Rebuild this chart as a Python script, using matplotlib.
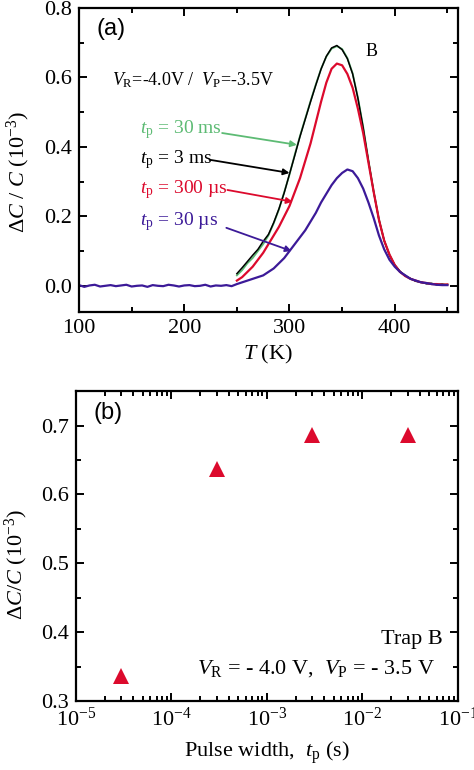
import numpy as np
import matplotlib
matplotlib.use('Agg')
import matplotlib.pyplot as plt
from matplotlib.ticker import MultipleLocator, LogLocator, NullFormatter

# 字体设置
plt.rcParams['font.family'] = ['Liberation Serif', 'DejaVu Serif']
plt.rcParams['mathtext.fontset'] = 'custom'
plt.rcParams['mathtext.rm'] = 'Liberation Serif'
plt.rcParams['mathtext.it'] = 'Liberation Serif:italic'
plt.rcParams['mathtext.bf'] = 'Liberation Serif:bold'

# (a) DLTS spectra
T_hi = list(range(250, 455, 5))
dc_30ms = [0.030, 0.045, 0.065, 0.080, 0.100, 0.120, 0.145, 0.180, 0.220, 0.270,
           0.320, 0.378, 0.432, 0.482, 0.532, 0.580, 0.625, 0.660, 0.683, 0.690,
           0.682, 0.656, 0.612, 0.542, 0.458, 0.362, 0.272, 0.192, 0.130, 0.090,
           0.060, 0.040, 0.030, 0.020, 0.014, 0.010, 0.007, 0.006, 0.004, 0.003,
           0.004]
dc_3ms = [0.035, 0.052, 0.070, 0.088, 0.105, 0.128, 0.148, 0.182, 0.222, 0.268,
          0.322, 0.375, 0.430, 0.480, 0.530, 0.578, 0.624, 0.661, 0.685, 0.692,
          0.680, 0.654, 0.610, 0.540, 0.455, 0.360, 0.270, 0.190, 0.130, 0.088,
          0.060, 0.042, 0.028, 0.021, 0.013, 0.011, 0.006, 0.007, 0.003, 0.005,
          0.002]
dc_300us = [0.015, 0.025, 0.040, 0.055, 0.075, 0.095, 0.120, 0.145, 0.170, 0.200,
            0.230, 0.270, 0.310, 0.360, 0.410, 0.470, 0.530, 0.585, 0.625, 0.640,
            0.635, 0.610, 0.570, 0.510, 0.440, 0.355, 0.270, 0.190, 0.130, 0.090,
            0.060, 0.040, 0.028, 0.020, 0.015, 0.010, 0.008, 0.005, 0.005, 0.003,
            0.004]
T_lo = list(range(100, 455, 5))
dc_30us = [0.002, -0.003, 0.001, 0.003, -0.002, 0.000, 0.002, -0.001, 0.001, 0.003,
           -0.002, 0.000, 0.001, -0.003, 0.002, 0.000, -0.001, 0.003, 0.001, -0.002,
           0.001, 0.002, -0.001, 0.000, 0.003, -0.002, 0.001, 0.000, 0.002, -0.001,
           0.005, 0.010, 0.015, 0.020, 0.025, 0.030, 0.040, 0.050, 0.065, 0.080,
           0.100, 0.120, 0.140, 0.160, 0.185, 0.210, 0.240, 0.265, 0.290, 0.310,
           0.325, 0.335, 0.330, 0.310, 0.280, 0.240, 0.195, 0.145, 0.105, 0.075,
           0.055, 0.040, 0.030, 0.020, 0.015, 0.010, 0.008, 0.005, 0.003, 0.002,
           0.002]

# (b) 峰值 vs 脉冲宽度
tp = [3e-5, 3e-4, 3e-3, 3e-2]
peak = [0.336, 0.637, 0.686, 0.686]

c_green = '#5dbb74'
c_red = '#dc0a2d'
c_purple = '#3c1a98'

fig = plt.figure(figsize=(4.74, 7.7), dpi=100)
ax1 = fig.add_axes([0.1667, 0.595, 0.7993, 0.3946])
ax2 = fig.add_axes([0.160, 0.0896, 0.806, 0.4024])

ax1.plot(T_hi, dc_30ms, color=c_green, lw=1.3)
ax1.plot(T_hi, dc_3ms, color='black', lw=1.1)
ax1.plot(T_hi, dc_300us, color=c_red, lw=1.6)
ax1.plot(T_lo, dc_30us, color=c_purple, lw=1.6)

ax1.set_xlim(100, 460)
ax1.set_ylim(-0.075, 0.8)
ax1.xaxis.set_major_locator(MultipleLocator(100))
ax1.xaxis.set_minor_locator(MultipleLocator(50))
ax1.yaxis.set_major_locator(MultipleLocator(0.2))
ax1.yaxis.set_minor_locator(MultipleLocator(0.1))
ax1.yaxis.set_major_formatter(plt.FormatStrFormatter('%.1f'))
ax1.set_xlabel(r'$T$ (K)', fontsize=16, labelpad=4)
ax1.set_ylabel(r'$\Delta C$ / $C$ (10$^{-3}$)', fontsize=16)
ax1.yaxis.set_label_coords(-0.125, 0.46)

ax1.text(0.045, 0.93, '(a)', transform=ax1.transAxes, fontsize=17,
         family='Liberation Sans', va='center')
ax1.text(131, 0.593, r'$V_\mathrm{R}$=-4.0V /  $V_\mathrm{P}$=-3.5V', fontsize=13, va='center')
ax1.text(372, 0.676, 'B', fontsize=13, va='center')

labels = [(r'$t_\mathrm{p}$ = 30 ms', c_green, 0.449, (236, 0.44), (307, 0.406)),
          (r'$t_\mathrm{p}$ = 3 ms', 'black', 0.363, (224, 0.363), (300, 0.325)),
          (r'$t_\mathrm{p}$ = 300 µs', c_red, 0.276, (241, 0.276), (303, 0.242)),
          (r'$t_\mathrm{p}$ = 30 µs', c_purple, 0.184, (240, 0.167), (302, 0.100))]
for txt, col, ty, start, end in labels:
    ax1.text(158, ty, txt, color=col, fontsize=14, va='center')
    ax1.annotate('', xy=end, xytext=start,
                 arrowprops=dict(arrowstyle='-|>', color=col, lw=1.3,
                                 mutation_scale=9, shrinkA=0, shrinkB=0))

ax2.plot(tp, peak, '^', color=c_red, markersize=11, markeredgewidth=0)
ax2.set_xscale('log')
ax2.set_xlim(1e-5, 1e-1)
ax2.set_ylim(0.3, 0.75)
ax2.yaxis.set_major_locator(MultipleLocator(0.1))
ax2.yaxis.set_minor_locator(MultipleLocator(0.05))
ax2.yaxis.set_major_formatter(plt.FormatStrFormatter('%.1f'))
ax2.xaxis.set_major_locator(LogLocator(base=10, numticks=10))
ax2.xaxis.set_minor_locator(LogLocator(base=10, subs=np.arange(2, 10), numticks=20))
ax2.xaxis.set_minor_formatter(NullFormatter())
ax2.set_xlabel(r'Pulse width,  $t_\mathrm{p}$ (s)', fontsize=16, labelpad=6)
ax2.set_ylabel(r'$\Delta C$/$C$ (10$^{-3}$)', fontsize=16)
ax2.yaxis.set_label_coords(-0.12, 0.44)

ax2.text(0.045, 0.93, '(b)', transform=ax2.transAxes, fontsize=17,
         family='Liberation Sans', va='center')
ax2.text(0.96, 0.2, 'Trap B', transform=ax2.transAxes, fontsize=16,
         ha='right', va='center')
ax2.text(0.94, 0.105, r'$V_\mathrm{R}$ = - 4.0 V,  $V_\mathrm{P}$ = - 3.5 V',
         transform=ax2.transAxes, fontsize=16, ha='right', va='center')

for ax in (ax1, ax2):
    for s in ax.spines.values():
        s.set_linewidth(1.6)
    ax.tick_params(which='both', direction='in', top=True, right=True,
                   labelsize=16, width=1.4)
    ax.tick_params(which='major', length=6, pad=5)
    ax.tick_params(which='minor', length=3.5)

plt.savefig('out.png', dpi=100)
